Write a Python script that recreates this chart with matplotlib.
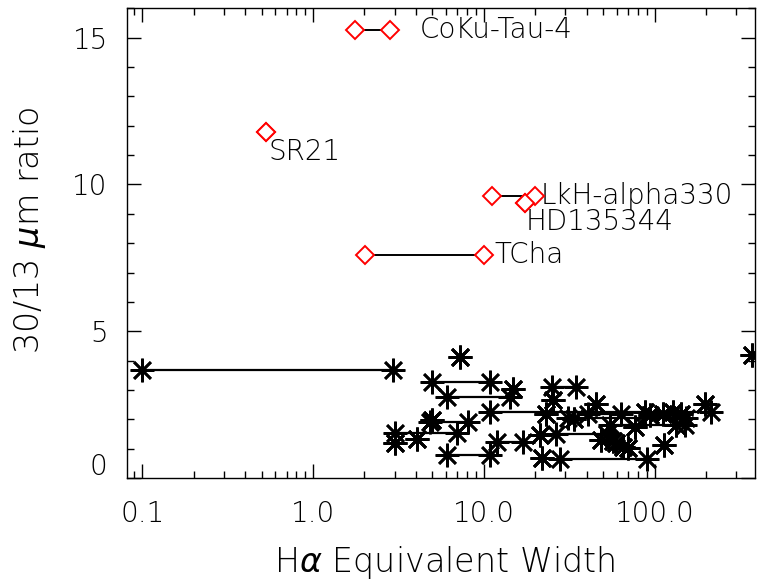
import numpy as np
import matplotlib.pyplot as plt
from matplotlib.transforms import ScaledTranslation
from matplotlib.ticker import LogLocator, MultipleLocator, NullFormatter

plt.rcParams['font.family'] = ['DejaVu Sans']
plt.rcParams['font.weight'] = 'light'
plt.rcParams['mathtext.fontset'] = 'dejavusans'

# Black asterisks: Halpha EW range (low, high) and 30/13 um ratio
ew_lo = [0.1, 7.24, 4.95, 6.05, 14.8, 24.9, 10.8, 25.4, 45.6, 196.0,
         23.2, 31.1, 40.7, 87.4, 93.5, 112.0, 128.0, 143.0, 54.6, 76.4,
         134.0, 11.9, 21.3, 26.6, 6.05, 21.8, 27.8, 48.8, 59.7, 65.3,
         69.8, 57.0, 114.0, 3.02, 3.02, 4.04, 4.83, 5.0, 369.0, 33.5]
ew_hi = [2.94, 7.24, 10.8, 14.2, 14.8, 34.8, 214.0, 25.4, 45.6, 196.0,
         23.2, 153.0, 63.8, 87.4, 93.5, 112.0, 128.0, 143.0, 150.0, 76.4,
         134.0, 17.0, 21.3, 52.4, 10.8, 21.8, 89.8, 48.8, 59.7, 65.3,
         69.8, 57.0, 114.0, 6.92, 3.02, 4.04, 8.09, 5.0, 369.0, 33.5]
ratio = [3.67, 4.12, 3.28, 2.77, 3.02, 3.11, 2.25, 2.65, 2.54, 2.54,
         2.20, 2.06, 2.20, 2.26, 2.14, 2.20, 2.26, 2.20, 1.80, 1.75,
         1.80, 1.23, 1.46, 1.50, 0.78, 0.67, 0.65, 1.29, 1.18, 1.06,
         1.01, 1.25, 1.12, 1.55, 1.18, 1.32, 1.90, 1.97, 4.18, 2.00]

# Red diamonds: named objects
names = ['CoKu-Tau-4', 'SR21', 'LkH-alpha330', 'HD135344', 'TCha']
red_lo = [1.76, 0.53, 11.1, 17.4, 2.01]
red_hi = [2.82, 0.53, 19.9, 17.4, 10.0]
red_ratio = [15.24, 11.8, 9.59, 9.35, 7.58]
label_x = [4.22, 0.546, 21.5, 17.6, 11.6]
label_y = [15.24, 11.09, 9.59, 8.71, 7.58]

fig = plt.figure(figsize=(7.57, 5.81), dpi=100)
ax = fig.add_axes([0.168, 0.177, 0.829, 0.809])

for lo, hi, r in zip(ew_lo, ew_hi, ratio):
    if hi != lo:
        ax.plot([lo, hi], [r, r], color='black', lw=1.6, zorder=2)
ax.plot(ew_lo + ew_hi, ratio + ratio, ls='none', marker=(8, 2, 0),
        ms=17, mew=1.9, color='black', zorder=3)

for lo, hi, r in zip(red_lo, red_hi, red_ratio):
    if hi != lo:
        ax.plot([lo, hi], [r, r], color='black', lw=1.4, zorder=2)
ax.plot(red_lo + red_hi, red_ratio + red_ratio, ls='none', marker='D',
        ms=9.5, mew=1.4, mfc='white', mec='red', zorder=4)
for name, lx, ly in zip(names, label_x, label_y):
    ax.text(lx, ly, name, fontsize=20, ha='left', va='center', color='black',
            fontweight='light')

ax.set_xscale('log')
ax.set_xlim(0.0817, 385)
ax.set_ylim(0, 16)

ax.set_xticks([0.1, 1, 10, 100])
ax.set_xticklabels(['0.1', '1.0', '10.0', '100.0'], fontweight='light')
ax.xaxis.set_minor_locator(LogLocator(base=10, subs=np.arange(2, 10)))
ax.xaxis.set_minor_formatter(NullFormatter())
ax.set_yticks([0, 5, 10, 15])
ax.set_yticklabels(['0', '5', '10', '15'], fontweight='light')
ax.yaxis.set_minor_locator(MultipleLocator(1))

ax.tick_params(which='both', direction='in', top=True, right=True, width=1)
ax.tick_params(which='major', length=10, labelsize=20)
ax.tick_params(which='minor', length=5)
ax.tick_params(axis='x', which='major', pad=16)
ax.tick_params(axis='y', which='major', pad=14)

for lbl in ax.get_yticklabels():
    if lbl.get_text() == '0':
        lbl.set_transform(lbl.get_transform() + ScaledTranslation(0, 10 / 72, fig.dpi_scale_trans))

for sp in ax.spines.values():
    sp.set_linewidth(1)

ax.set_xlabel(r'H$\alpha$ Equivalent Width', fontsize=24, fontweight='light')
ax.set_ylabel(r'30/13 $\mu$m ratio', fontsize=24, fontweight='light')
ax.xaxis.label.set_va('center')
ax.yaxis.label.set_va('center')
ax.xaxis.set_label_coords(0.506, -0.179)
ax.yaxis.set_label_coords(-0.156, 0.528)

fig.savefig('out.png', dpi=100)
